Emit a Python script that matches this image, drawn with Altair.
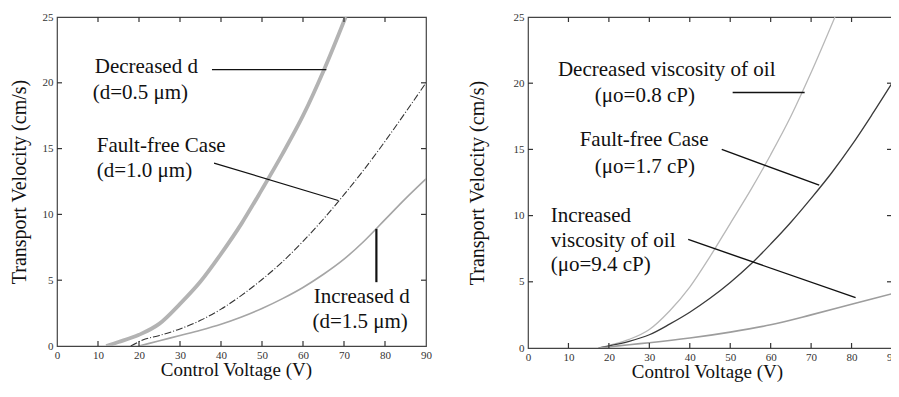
import altair as alt
import pandas as pd

# ---------------- data ----------------
x_ticks = [0, 10, 20, 30, 40, 50, 60, 70, 80, 90]
y_ticks = [0, 5, 10, 15, 20, 25]
inner_x = [10, 20, 30, 40, 50, 60, 70, 80]
inner_y = [5, 10, 15, 20]

# Left panel: electrode gap d
dec_d_V = [12, 15, 20, 25, 30, 35, 40, 45, 50, 55, 60, 65, 70.4]
dec_d_v = [0, 0.3, 0.85, 1.7, 3.2, 4.9, 7.0, 9.3, 11.9, 14.6, 17.5, 20.9, 25.0]
ff_d_V = [18, 20.9, 25, 30, 35, 40, 45, 50, 55, 60, 65, 70, 75, 80, 85, 90]
ff_d_v = [0, 0.45, 0.8, 1.3, 1.95, 2.8, 3.85, 5.05, 6.4, 7.95, 9.65, 11.5, 13.45, 15.55, 17.75, 20.0]
inc_d_V = [20, 25, 30, 35, 40, 45, 50, 55, 60, 65, 70, 75, 80, 85, 90]
inc_d_v = [0, 0.4, 0.8, 1.2, 1.65, 2.2, 2.85, 3.6, 4.45, 5.45, 6.6, 8.0, 9.6, 11.2, 12.7]

# Right panel: oil viscosity
dec_mu_V = [17.5, 20, 25, 30, 35, 40, 45, 50, 55, 60, 65, 70, 75.9]
dec_mu_v = [0, 0.2, 0.65, 1.4, 2.8, 4.6, 6.9, 9.4, 11.9, 14.6, 17.5, 20.8, 25.0]
ff_mu_V = [17.5, 20, 25, 30, 35, 40, 45, 50, 55, 60, 65, 70, 75, 80, 85, 90]
ff_mu_v = [0, 0.15, 0.5, 1.0, 1.8, 2.7, 3.75, 4.95, 6.3, 7.85, 9.5, 11.3, 13.2, 15.3, 17.6, 20.0]
inc_mu_V = [17.5, 20, 25, 30, 40, 50, 60, 70, 80, 90]
inc_mu_v = [0, 0.08, 0.25, 0.4, 0.75, 1.2, 1.75, 2.5, 3.3, 4.1]

# annotations (text, V, v)
left_text = ["Decreased d", "(d=0.5 \u03bcm)", "Fault-free Case", "(d=1.0 \u03bcm)",
             "Increased d", "(d=1.5 \u03bcm)"]
left_text_V = [9.2, 8.7, 9.7, 9.7, 62.6, 62.3]
left_text_v = [21.2, 19.2, 15.2, 13.3, 3.7, 1.8]
left_lead_V = [37.8, 38.3, 77.9]
left_lead_v = [21.0, 13.9, 8.9]
left_lead_V2 = [65.7, 68.6, 77.9]
left_lead_v2 = [21.0, 11.06, 4.85]
left_lead_w = [1.2, 1.2, 2.2]

right_text_c = ["Decreased viscosity of oil", "(\u03bco=0.8 cP)", "Fault-free Case", "(\u03bco=1.7 cP)"]
right_text_c_V = [34.3, 28.9, 28.7, 28.9]
right_text_c_v = [21.0, 19.0, 15.7, 13.7]
right_text_l = ["Increased", "viscosity of oil", " (\u03bco=9.4 cP)"]
right_text_l_V = [5.6, 5.6, 5.6]
right_text_l_v = [10.0, 8.1, 6.3]
right_lead_V = [50.6, 47.9, 39.6]
right_lead_v = [19.3, 15.0, 8.2]
right_lead_V2 = [68.4, 72.0, 81.0]
right_lead_v2 = [19.3, 12.3, 3.8]

FONT = "Liberation Serif"
XS = alt.Scale(domain=[0, 90], nice=False)
YS = alt.Scale(domain=[0, 25], nice=False)


def make_axes(title_pad_y):
    ax_x = alt.Axis(values=x_ticks, title="Control Voltage (V)", ticks=False, domain=False,
                    grid=False, labelPadding=3, titlePadding=0, titleX=179, labelFlush=False,
                    labelFont=FONT, labelFontSize=11, labelColor="#333",
                    titleFont=FONT, titleFontSize=19, titleFontWeight="normal", titleColor="#111")
    ax_y = alt.Axis(values=y_ticks, title="Transport Velocity (cm/s)", ticks=False, domain=False,
                    grid=False, labelPadding=4, titlePadding=title_pad_y, labelFlush=False,
                    labelFont=FONT, labelFontSize=11, labelColor="#333",
                    titleFont=FONT, titleFontSize=20, titleFontWeight="normal", titleColor="#111")
    return ax_x, ax_y


def line_layer(Vs, vs, color, width, ax_x, ax_y, dash=None):
    df = pd.DataFrame({"V": Vs, "v": vs})
    kw = dict(color=color, strokeWidth=width, clip=True, interpolate="monotone")
    if dash:
        kw["strokeDash"] = dash
    return alt.Chart(df).mark_line(**kw).encode(
        x=alt.X("V:Q", scale=XS, axis=ax_x),
        y=alt.Y("v:Q", scale=YS, axis=ax_y),
    )


def tick_layers(W, H, ax_x, ax_y):
    dx = pd.DataFrame({"V": inner_x})
    dy = pd.DataFrame({"v": inner_y})
    xs = alt.X("V:Q", scale=XS, axis=ax_x)
    ys = alt.Y("v:Q", scale=YS, axis=ax_y)
    top = alt.Chart(dx).mark_rule(color="#333", strokeWidth=1.2).encode(
        x=xs, y=alt.value(0), y2=alt.value(5))
    bot = alt.Chart(dx).mark_rule(color="#333", strokeWidth=1.2).encode(
        x=xs, y=alt.value(H - 5), y2=alt.value(H))
    lef = alt.Chart(dy).mark_rule(color="#333", strokeWidth=1.2).encode(
        y=ys, x=alt.value(0), x2=alt.value(5))
    rig = alt.Chart(dy).mark_rule(color="#333", strokeWidth=1.2).encode(
        y=ys, x=alt.value(W - 5), x2=alt.value(W))
    return [top, bot, lef, rig]


def text_layer(texts, Vs, vs, ax_x, ax_y, align):
    df = pd.DataFrame({"t": texts, "V": Vs, "v": vs})
    return alt.Chart(df).mark_text(font=FONT, fontSize=21, align=align, baseline="middle",
                                   color="#111").encode(
        x=alt.X("V:Q", scale=XS, axis=ax_x),
        y=alt.Y("v:Q", scale=YS, axis=ax_y),
        text="t:N",
    )


def lead_layer(V1, v1, V2, v2, widths, ax_x, ax_y):
    df = pd.DataFrame({"V": V1, "v": v1, "V2": V2, "v2": v2, "w": widths})
    return alt.Chart(df).mark_rule(color="#111").encode(
        x=alt.X("V:Q", scale=XS, axis=ax_x),
        y=alt.Y("v:Q", scale=YS, axis=ax_y),
        x2="V2:Q", y2="v2:Q",
        strokeWidth=alt.StrokeWidth("w:Q", scale=None, legend=None),
    )


# ---------------- left panel ----------------
WL, HL = 369, 329
axl_x, axl_y = make_axes(13)
left = alt.layer(
    line_layer(dec_d_V, dec_d_v, "#b3b3b3", 3.8, axl_x, axl_y),
    line_layer(ff_d_V, ff_d_v, "#333333", 1.1, axl_x, axl_y, dash=[7, 2, 1, 2]),
    line_layer(inc_d_V, inc_d_v, "#a5a5a5", 1.6, axl_x, axl_y),
    *tick_layers(WL, HL, axl_x, axl_y),
    text_layer(left_text, left_text_V, left_text_v, axl_x, axl_y, "left"),
    lead_layer(left_lead_V, left_lead_v, left_lead_V2, left_lead_v2, left_lead_w, axl_x, axl_y),
).properties(width=WL, height=HL)

# ---------------- right panel ----------------
WR, HR = 364, 331
axr_x, axr_y = make_axes(26)
right = alt.layer(
    line_layer(dec_mu_V, dec_mu_v, "#b8b8b8", 1.3, axr_x, axr_y),
    line_layer(ff_mu_V, ff_mu_v, "#3a3a3a", 1.3, axr_x, axr_y),
    line_layer(inc_mu_V, inc_mu_v, "#9d9d9d", 1.6, axr_x, axr_y),
    *tick_layers(WR, HR, axr_x, axr_y),
    text_layer(right_text_c, right_text_c_V, right_text_c_v, axr_x, axr_y, "center"),
    text_layer(right_text_l, right_text_l_V, right_text_l_v, axr_x, axr_y, "left"),
    lead_layer(right_lead_V, right_lead_v, right_lead_V2, right_lead_v2, [1.4, 1.4, 1.4], axr_x, axr_y),
).properties(width=WR, height=HR)

chart = alt.hconcat(left, right, spacing=33).properties(
    autosize=alt.AutoSizeParams(type="none"),
    padding={"left": 49, "top": 9, "right": 834, "bottom": 367},
    background="white",
).configure_view(stroke="#444", strokeWidth=1.2)

chart.save("out.html", embed_options={"renderer": "svg", "actions": False})
